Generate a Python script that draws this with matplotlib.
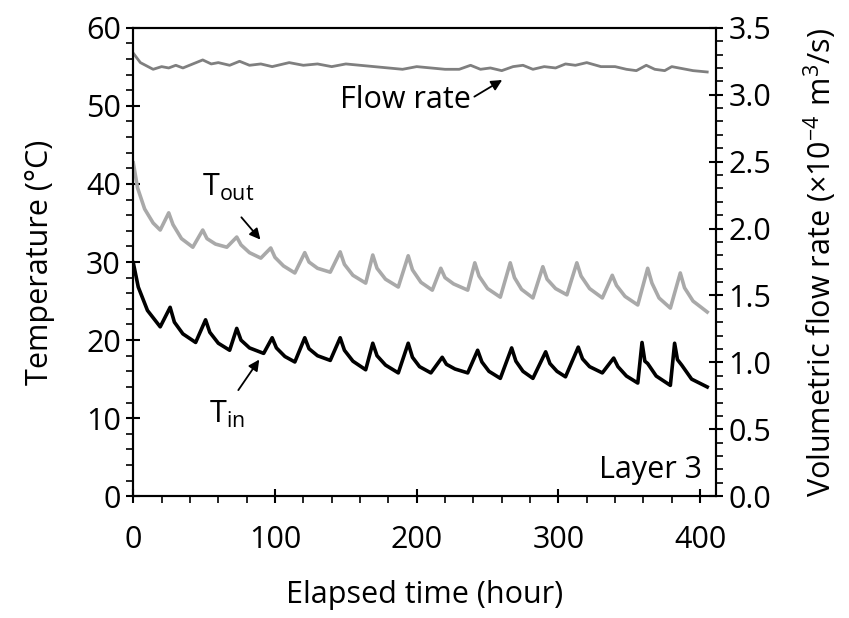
import matplotlib
matplotlib.use("Agg")
import matplotlib.pyplot as plt
from matplotlib.ticker import MultipleLocator

plt.rcParams['font.family'] = ['Open Sans', 'DejaVu Sans']
plt.rcParams['mathtext.fontset'] = 'custom'
plt.rcParams['mathtext.rm'] = 'Open Sans'

# inlet temperature (black)
t_in = [0, 3.5, 10, 19, 26, 29, 35, 44, 51, 54, 60, 68, 73, 76, 82, 92, 98, 101,
        107, 114, 121, 124, 130, 139, 146, 149, 155, 164, 169, 172, 178, 187, 194,
        197, 202, 210, 218, 221, 227, 236, 243, 246, 251, 259, 267, 270, 275, 282,
        291, 294, 299, 305, 314, 317, 322, 331, 339, 342, 348, 356, 359, 361, 363,
        369, 379, 382, 384, 387, 394, 405]
T_in = [29.9, 26.8, 23.8, 21.7, 24.2, 22.3, 20.8, 19.7, 22.6, 21.0, 19.6, 18.7,
        21.5, 20.0, 19.0, 18.3, 20.3, 19.0, 17.9, 17.2, 20.3, 18.9, 18.0, 17.4,
        20.3, 18.7, 17.3, 16.2, 19.6, 18.0, 16.8, 15.8, 19.6, 17.8, 16.6, 15.8,
        17.8, 16.9, 16.3, 15.8, 18.7, 17.2, 16.0, 15.1, 19.0, 17.3, 16.0, 15.1,
        18.5, 17.0, 16.0, 15.3, 19.1, 17.6, 16.6, 15.8, 17.7, 16.6, 15.4, 14.5,
        19.7, 17.3, 17.0, 15.4, 14.2, 19.6, 17.5, 16.8, 15.0, 14.0]

# outlet temperature (light gray)
t_out = [0, 3, 8, 14, 19, 25, 28, 34, 42, 49, 52, 58, 66, 73, 76, 82, 90, 97, 100,
         106, 114, 121, 124, 130, 139, 146, 149, 155, 164, 169, 172, 178, 187, 194,
         197, 203, 211, 217, 220, 226, 236, 241, 244, 250, 259, 266, 269, 274, 282,
         289, 292, 298, 306, 313, 316, 322, 331, 338, 341, 347, 356, 363, 366, 371,
         379, 386, 389, 395, 405]
T_out = [42.7, 39.5, 36.8, 35.0, 34.1, 36.3, 34.8, 33.0, 31.9, 34.1, 33.0, 32.3,
         31.9, 33.2, 32.2, 31.2, 30.5, 31.8, 30.6, 29.5, 28.6, 31.2, 30.0, 29.2,
         28.7, 31.3, 29.7, 28.3, 27.3, 30.9, 29.2, 27.8, 26.8, 30.8, 29.0, 27.4,
         26.4, 29.2, 28.0, 27.2, 26.4, 29.9, 28.2, 26.6, 25.5, 29.9, 28.0, 26.5,
         25.4, 29.4, 27.8, 26.6, 25.8, 29.9, 28.2, 26.6, 25.4, 28.3, 27.0, 25.6,
         24.5, 29.2, 27.3, 25.4, 24.1, 28.6, 26.7, 25.0, 23.6]

# volumetric flow rate (x1e-4 m3/s)
t_flow = [0, 5, 14, 20, 25, 30, 35, 42, 49, 55, 60, 68, 75, 82, 90, 98, 110, 120,
          130, 140, 150, 160, 170, 180, 190, 200, 210, 220, 230, 238, 245, 252,
          260, 268, 275, 282, 290, 298, 305, 312, 320, 330, 340, 348, 355, 362,
          368, 375, 380, 385, 390, 395, 405]
flow = [3.31, 3.24, 3.19, 3.21, 3.20, 3.22, 3.20, 3.23, 3.26, 3.23, 3.24, 3.22,
        3.25, 3.22, 3.23, 3.21, 3.24, 3.22, 3.23, 3.21, 3.23, 3.22, 3.21, 3.20,
        3.19, 3.21, 3.20, 3.19, 3.19, 3.22, 3.19, 3.20, 3.18, 3.21, 3.22, 3.19,
        3.21, 3.20, 3.23, 3.22, 3.24, 3.21, 3.21, 3.19, 3.18, 3.22, 3.19, 3.18,
        3.21, 3.20, 3.19, 3.18, 3.17]

fig = plt.figure(figsize=(8.49, 6.18), dpi=100)
ax = fig.add_axes([0.157, 0.197, 0.686, 0.758])
ax2 = ax.twinx()

ax.plot(t_out, T_out, color='#a9a9a9', lw=2.6, solid_joinstyle='round')
ax.plot(t_in, T_in, color='black', lw=2.6, solid_joinstyle='round')
ax2.plot(t_flow, flow, color='#7f7f7f', lw=2.0, solid_joinstyle='round')

ax.set_xlim(0, 411)
ax.set_ylim(0, 60)
ax2.set_ylim(0, 3.5)

ax.xaxis.set_major_locator(MultipleLocator(100))
ax.xaxis.set_minor_locator(MultipleLocator(20))
ax.yaxis.set_major_locator(MultipleLocator(10))
ax.yaxis.set_minor_locator(MultipleLocator(2))
ax2.yaxis.set_major_locator(MultipleLocator(0.5))
ax2.yaxis.set_minor_locator(MultipleLocator(0.1))
ax2.yaxis.set_major_formatter(plt.FormatStrFormatter('%.1f'))

fs = 22
for a in (ax, ax2):
    for s in a.spines.values():
        s.set_linewidth(1.5)
    a.tick_params(which='major', direction='inout', length=10, width=1.5, labelsize=fs, pad=4)
    a.tick_params(which='minor', direction='out', length=5, width=1.2)
ax.tick_params(axis='x', pad=16)

ax.set_xlabel('Elapsed time (hour)', fontsize=fs, labelpad=18)
ax.set_ylabel('Temperature (°C)', fontsize=fs, labelpad=22)
ax2.set_ylabel(r'Volumetric flow rate ($\mathregular{\times10^{-4}\ m^3/s}$)', fontsize=fs, labelpad=22)

ax.text(192, 50.8, 'Flow rate', fontsize=fs, ha='center', va='center')
ax.annotate('', xy=(262, 53.5), xytext=(239, 51.0),
            arrowprops=dict(arrowstyle='-|>', color='black', lw=1.3, mutation_scale=16))
ax.text(67, 39.5, r'$\mathregular{T_{out}}$', fontsize=fs, ha='center', va='center')
ax.annotate('', xy=(91, 32.6), xytext=(75, 36.0),
            arrowprops=dict(arrowstyle='-|>', color='black', lw=1.3, mutation_scale=16))
ax.text(66, 10.5, r'$\mathregular{T_{in}}$', fontsize=fs, ha='center', va='center')
ax.annotate('', xy=(90, 17.8), xytext=(73, 13.3),
            arrowprops=dict(arrowstyle='-|>', color='black', lw=1.3, mutation_scale=16))
ax.text(401, 1.5, 'Layer 3', fontsize=fs, ha='right', va='bottom')

fig.savefig('out.png', dpi=100)
